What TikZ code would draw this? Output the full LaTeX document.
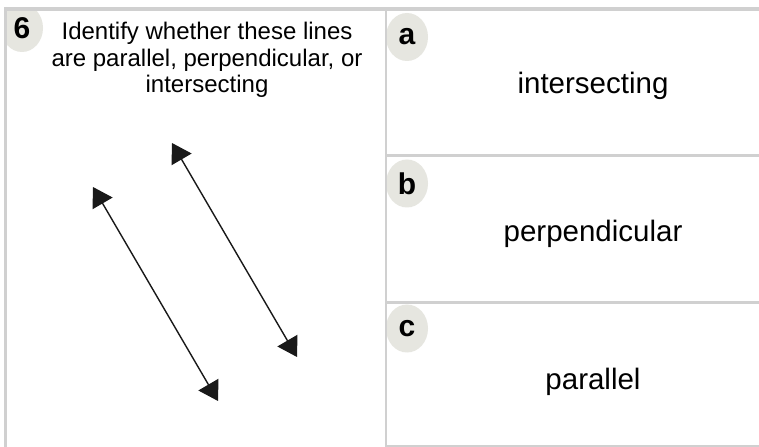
\documentclass[tikz,border=0pt]{standalone}
\usepackage{fontspec}
\setmainfont{Liberation Sans}
\usetikzlibrary{arrows.meta,shapes.geometric}

\definecolor{rulegray}{RGB}{208,208,208}
\definecolor{badgegray}{RGB}{230,230,224}
\definecolor{inkgray}{RGB}{25,25,25}

\tikzstyle{rule} = [draw=rulegray]
\tikzstyle{badge} = [ellipse, fill=badgegray, minimum width=42bp, minimum height=48bp, inner sep=0pt, font=\fontsize{30bp}{30bp}\selectfont\bfseries]
\tikzstyle{answer} = [anchor=base, font=\fontsize{29.5bp}{32bp}\selectfont]
\tikzstyle{ray} = [draw=inkgray, line width=1.4bp, {Triangle[length=19bp,width=23bp]}-{Triangle[length=19bp,width=23bp]}]

\begin{document}
\begin{tikzpicture}[x=1bp,y=-1bp]
		\useasboundingbox (0,0) rectangle (759,447);
		\fill[white] (0,0) rectangle (759,447);
		
		%question badge
		\begin{scope}
		\clip (5,9) rectangle (385,447);
		\node[badge] (num) at (22,28) {6};
		\end{scope}
		%choice badges
		\node[badge] (optA) at (407,37) {a};
		\node[badge] (optB) at (407,183.5) {b};
		\node[badge] (optC) at (407,328.5) {c};
		
		%frame
		\draw[rule, line width=4bp] (4,9) -- (759,9);
		\draw[rule, line width=3bp] (5.5,7) -- (5.5,447);
		\draw[rule, line width=2bp] (385.5,9) -- (385.5,447);
		\draw[rule, line width=3bp] (385,156) -- (759,156);
		\draw[rule, line width=3bp] (385,303) -- (759,303);
		\draw[rule, line width=2bp] (385,446) -- (759,446);
		
		%question
		\node[anchor=base, align=center, font=\fontsize{24bp}{26.5bp}\selectfont] (ask) at (207,93) {Identify whether these lines\\are parallel, perpendicular, or\\intersecting};
		
		%lines
		\coordinate (lineAtop) at (93,187);
		\coordinate (lineAbot) at (218,401);
		\coordinate (lineBtop) at (172,143);
		\coordinate (lineBbot) at (297,357);
		\draw[ray] (lineAtop) -- (lineAbot);
		\draw[ray] (lineBtop) -- (lineBbot);
		
		%answers
		\node[answer] (ansA) at (593,94) {intersecting};
		\node[answer] (ansB) at (593,242) {perpendicular};
		\node[answer] (ansC) at (593,389) {parallel};
		\end{tikzpicture}
\end{document}
